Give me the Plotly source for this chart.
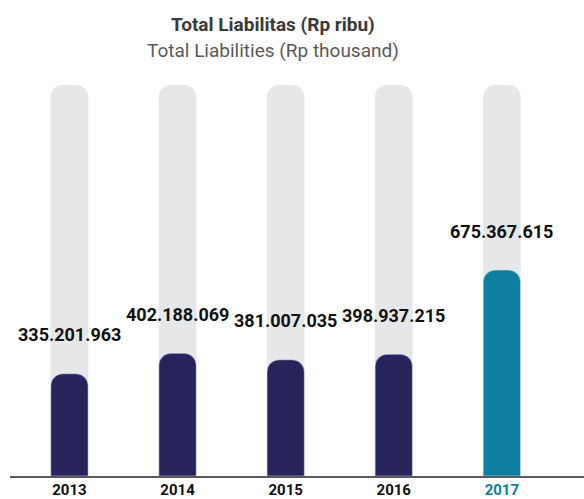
import plotly.graph_objects as go

years = ["2013", "2014", "2015", "2016", "2017"]
values = [335201963, 402188069, 381007035, 398937215, 675367615]
labels = ["335.201.963", "402.188.069", "381.007.035", "398.937.215", "675.367.615"]
title_id = "Total Liabilitas (Rp ribu)"
title_en = "Total Liabilities (Rp thousand)"

NAVY = "#27235B"
TEAL = "#0E7FA0"
TRACK = "#E6E7E9"
Y_MAX = 1.282e9

bar_colors = [NAVY, NAVY, NAVY, NAVY, TEAL]

fig = go.Figure()
# background tracks on the main axes
fig.add_trace(go.Bar(
    x=years, y=[Y_MAX] * len(years), marker=dict(color=TRACK, cornerradius=12),
    width=0.345, hoverinfo="skip", showlegend=False,
))
# value bars on overlaying axes (drawn on top)
fig.add_trace(go.Bar(
    x=years, y=values, marker=dict(color=bar_colors, cornerradius=12),
    width=0.345, showlegend=False, xaxis="x2", yaxis="y2",
))

for i, (v, lab) in enumerate(zip(values, labels)):
    fig.add_annotation(x=i, y=v, xref="x2", yref="y2", text=f"<b>{lab}</b>",
                       showarrow=False, yshift=39, yanchor="middle",
                       font=dict(family="Roboto", size=18, color="#111111"))

fig.add_annotation(xref="paper", yref="paper", x=0.458, y=1, yshift=61,
                   text=f"<b>{title_id}</b>", showarrow=False, yanchor="middle",
                   font=dict(family="Roboto", size=19, color="#3A3A3A"))
fig.add_annotation(xref="paper", yref="paper", x=0.458, y=1, yshift=35,
                   text=title_en, showarrow=False, yanchor="middle",
                   font=dict(family="Roboto", size=19, color="#5A5A5A"))

ticktext = [f"<b>{y}</b>" if y != "2017" else f"<b><span style='color:{TEAL}'>{y}</span></b>" for y in years]

xrange = [-0.55, 4.76]
fig.update_layout(
    width=584, height=499,
    margin=dict(l=10, r=0, t=85, b=23, autoexpand=False),
    paper_bgcolor="white", plot_bgcolor="white",
    barmode="overlay",
    xaxis2=dict(type="category", categoryorder="array", categoryarray=years,
                range=xrange, overlaying="x", visible=False),
    yaxis2=dict(range=[0, Y_MAX], overlaying="y", visible=False),
    xaxis=dict(type="category", categoryorder="array", categoryarray=years,
               range=xrange, tickvals=years, ticktext=ticktext,
               showline=True, linecolor="#5A5A5A", linewidth=2,
               showgrid=False, zeroline=False, ticks="", ticklen=0,
               ticklabelstandoff=-1, automargin=False,
               tickfont=dict(family="Roboto", size=15, color="#111111")),
    yaxis=dict(range=[0, Y_MAX], visible=False, showgrid=False, zeroline=False,
               automargin=False),
)

fig.write_html("out.html", config={"displayModeBar": False},
               post_script="document.body.style.margin='0';")
